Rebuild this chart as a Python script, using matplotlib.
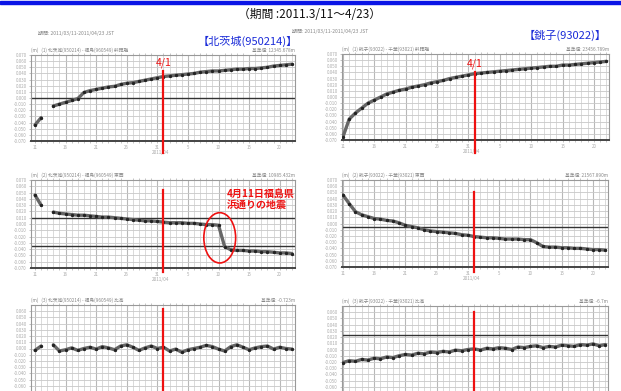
import numpy as np
import matplotlib
matplotlib.use("Agg")
import matplotlib.pyplot as plt
from matplotlib.patches import Ellipse, Rectangle

plt.rcParams['font.family'] = ['Noto Sans CJK JP', 'DejaVu Sans']

nan = np.nan

# days since 2011/3/11
days = list(range(43))
tick_days = [0, 5, 10, 15, 20, 25, 30, 35, 40]
tick_labels = ['11', '16', '21', '26', '31', '5', '10', '15', '20']
day_0401 = 21

# 北茨城 (950214): 斜距離 / 東西 / 比高  (m)
kita_1 = [-0.044, -0.032, nan, -0.013, -0.010, -0.007, -0.004, -0.001, 0.009, 0.012,
          0.014, 0.016, 0.018, 0.019, 0.022, 0.024, 0.025, 0.027, 0.029, 0.031,
          0.033, 0.035, 0.036, 0.037, 0.038, 0.039, 0.040, 0.042, 0.043, 0.044,
          0.044, 0.045, 0.046, 0.047, 0.047, 0.048, 0.048, 0.049, 0.050, 0.052,
          0.053, 0.054, 0.055]
kita_2 = [0.046, 0.030, nan, 0.019, 0.017, 0.016, 0.015, 0.014, 0.014, 0.013,
          0.012, 0.011, 0.011, 0.010, 0.009, 0.008, 0.007, 0.006, 0.005, 0.005,
          0.004, 0.003, 0.002, 0.002, 0.002, 0.001, 0.001, -0.000, -0.001, -0.001,
          -0.002, -0.036, -0.041, -0.042, -0.042, -0.043, -0.043, -0.044, -0.044, -0.045,
          -0.046, -0.046, -0.047]
kita_3 = [-0.003, 0.004, nan, 0.006, -0.004, -0.002, 0.001, -0.003, 0.000, 0.002,
          -0.001, 0.003, 0.001, -0.002, 0.004, 0.006, 0.002, -0.003, 0.001, 0.004,
          0.000, 0.002, -0.004, -0.001, -0.006, -0.002, 0.000, 0.002, 0.005, 0.003,
          -0.001, -0.004, 0.003, 0.006, 0.002, -0.002, 0.001, 0.003, 0.004, -0.001,
          0.002, 0.000, -0.001]

# 銚子 (93022)
cho_1 = [-0.065, -0.036, -0.026, -0.018, -0.010, -0.005, -0.000, 0.005, 0.008, 0.011,
         0.013, 0.016, 0.018, 0.020, 0.023, 0.025, 0.027, 0.030, 0.032, 0.034,
         0.036, 0.038, 0.039, 0.040, 0.041, 0.042, 0.043, 0.044, 0.045, 0.046,
         0.047, 0.048, 0.049, 0.050, 0.050, 0.052, 0.052, 0.053, 0.054, 0.055,
         0.056, 0.057, 0.058]
cho_2 = [0.046, 0.032, 0.019, 0.014, 0.011, 0.008, 0.007, 0.005, 0.004, 0.001,
         -0.003, -0.005, -0.007, -0.010, -0.012, -0.013, -0.014, -0.015, -0.016, -0.018,
         -0.019, -0.021, -0.022, -0.023, -0.023, -0.024, -0.025, -0.025, -0.025, -0.026,
         -0.026, -0.031, -0.037, -0.038, -0.038, -0.039, -0.039, -0.040, -0.040, -0.041,
         -0.042, -0.042, -0.043]
cho_3 = [-0.021, -0.018, -0.019, -0.016, -0.017, -0.014, -0.015, -0.012, -0.013, -0.010,
         -0.008, -0.009, -0.006, -0.007, -0.004, -0.005, -0.003, -0.004, -0.001, -0.002,
         0.000, 0.001, -0.001, 0.002, 0.001, 0.003, 0.002, 0.000, 0.004, 0.003,
         0.005, 0.006, 0.003, 0.005, 0.004, 0.007, 0.006, 0.005, 0.008, 0.007,
         0.009, 0.006, 0.008]

headers = ['斜距離', '東西', '比高']
base_left = ['基準値: 12345.678m', '基準値: 10985.432m', '基準値: -0.723m']
base_right = ['基準値: 23456.789m', '基準値: 21567.890m', '基準値: -6.7m']

W, H = 621, 391
fig = plt.figure(figsize=(W / 100, H / 100), dpi=100)


def px_rect(l, t, r, b):
    return [l / W, 1 - b / H, (r - l) / W, (b - t) / H]


# blue bar along the top
fig.patches.append(Rectangle((0, 1 - 4 / H), 1, 3 / H, transform=fig.transFigure,
                             color='#0a14e6', zorder=0))

fig.text(310 / W, 1 - 15 / H, '（期間 :2011.3/11～4/23）', ha='center', va='center',
         fontsize=8.5, color='#111')
fig.text(248 / W, 1 - 41 / H, '【北茨城(950214)】', ha='center', va='center',
         fontsize=8, color='#1a2bd8')
fig.text(565 / W, 1 - 35 / H, '【銚子(93022)】', ha='center', va='center',
         fontsize=8, color='#1a2bd8')
fig.text(38 / W, 1 - 33 / H, '期間: 2011/03/11-2011/04/23 JST', fontsize=3.6,
         color='#888', va='center')
fig.text(292 / W, 1 - 31 / H, '期間: 2011/03/11-2011/04/23 JST', fontsize=3.6,
         color='#888', va='center')

panels = [
    # data, rect(px), xlim, ref lines, red line (top px, bottom px), station
    (kita_1, (31, 55, 295, 141), (-0.65, 42.5), [0.0], (71, 153), 0),
    (cho_1, (342, 54, 609, 140), (-0.15, 42.4), [], (72, 153), 1),
    (kita_2, (31, 180, 295, 268), (-0.65, 42.5), [0.010, -0.035], (190, 272), 0),
    (cho_2, (342, 180, 608, 267), (-0.15, 42.4), [-0.005], (192, 272), 1),
    (kita_3, (31, 305, 295, 392), (-0.65, 42.5), [], (309, 400), 0),
    (cho_3, (342, 306, 608, 393), (-0.15, 42.4), [0.023], (312, 400), 1),
]

for i, (vals, (l, t, r, b), xl, refs, (rt, rb), st) in enumerate(panels):
    row = i // 2
    ax = fig.add_axes(px_rect(l, t, r, b))
    ax.set_xlim(*xl)
    ax.set_ylim(-0.07, 0.07)
    ax.set_xticks(tick_days)
    ax.set_xticklabels(tick_labels)
    ax.set_xticks(days, minor=True)
    yt = np.arange(-0.07, 0.0701, 0.01)
    ax.set_yticks(yt)
    ax.set_yticklabels(['%.3f' % v for v in yt])
    ax.tick_params(labelsize=3.2, colors='#aaa', length=1.5, width=0.5, pad=1.5)
    ax.tick_params(which='minor', length=1.5, width=0.4, colors='#999', top=True)
    if row == 2:
        ax.tick_params(labelbottom=False)
        ax.set_yticks(yt[1:-1])
        ax.set_yticklabels(['%.3f' % v for v in yt[1:-1]])
    ax.grid(True, which='minor', axis='x', color='#d4d4d4', lw=0.6)
    ax.grid(True, which='major', axis='x', color='#b8b8b8', lw=0.8)
    ax.grid(True, which='major', axis='y', color='#c8c8c8', lw=0.6)
    for sp in ax.spines.values():
        sp.set_color('#999')
        sp.set_linewidth(0.8)
    ax.spines['bottom'].set_color('#444')
    ax.spines['bottom'].set_linewidth(1.4)
    for rv in refs:
        ax.axhline(rv, color='#333', lw=1.0)

    ax.plot(days, vals, color='#666', lw=2.4, zorder=3, solid_capstyle='round')
    ax.plot(days, vals, ls='none', marker='o', ms=1.4, color='#222', zorder=4)

    # red line at 4/1 reaching outside the frame
    h = b - t
    ax.axvline(day_0401, ymin=(b - rb) / h, ymax=(b - rt) / h, color='#ee1111',
               lw=1.6, clip_on=False, zorder=6)
    if i < 2:
        ax.text(day_0401, 0.07 + (t - rt + 8) / h * 0.14, '4/1', color='#ee1111',
                fontsize=7.5, ha='center', va='center', zorder=7)

    name = '北茨城(950214) - 福島(960549)' if st == 0 else '銚子(93022) - 千葉(93021)'
    ax.text(0.0, 1.025, '(m)   (%d) %s %s' % (row + 1, name, headers[row]),
            transform=ax.transAxes, fontsize=3.4, color='#888', ha='left', va='bottom')
    ax.text(1.0, 1.025, base_left[row] if st == 0 else base_right[row],
            transform=ax.transAxes, fontsize=3.4, color='#888', ha='right', va='bottom')
    if row < 2:
        ax.text(day_0401 - 0.5, -0.085, '2011/04', fontsize=3.4, color='#aaa',
                ha='center', va='top', clip_on=False)

    if i == 2:
        ax.add_patch(Ellipse((30.2, -0.022), 5.2, 0.080, fill=False, ec='#ee1111',
                             lw=1.2, zorder=6))
        ax.text(31.3, 0.039, '4月11日福島県\n浜通りの地震', color='#ee1111',
                fontsize=7.2, fontweight='bold', ha='left', va='center',
                linespacing=1.15, zorder=7)

fig.savefig('out.png', dpi=100)
